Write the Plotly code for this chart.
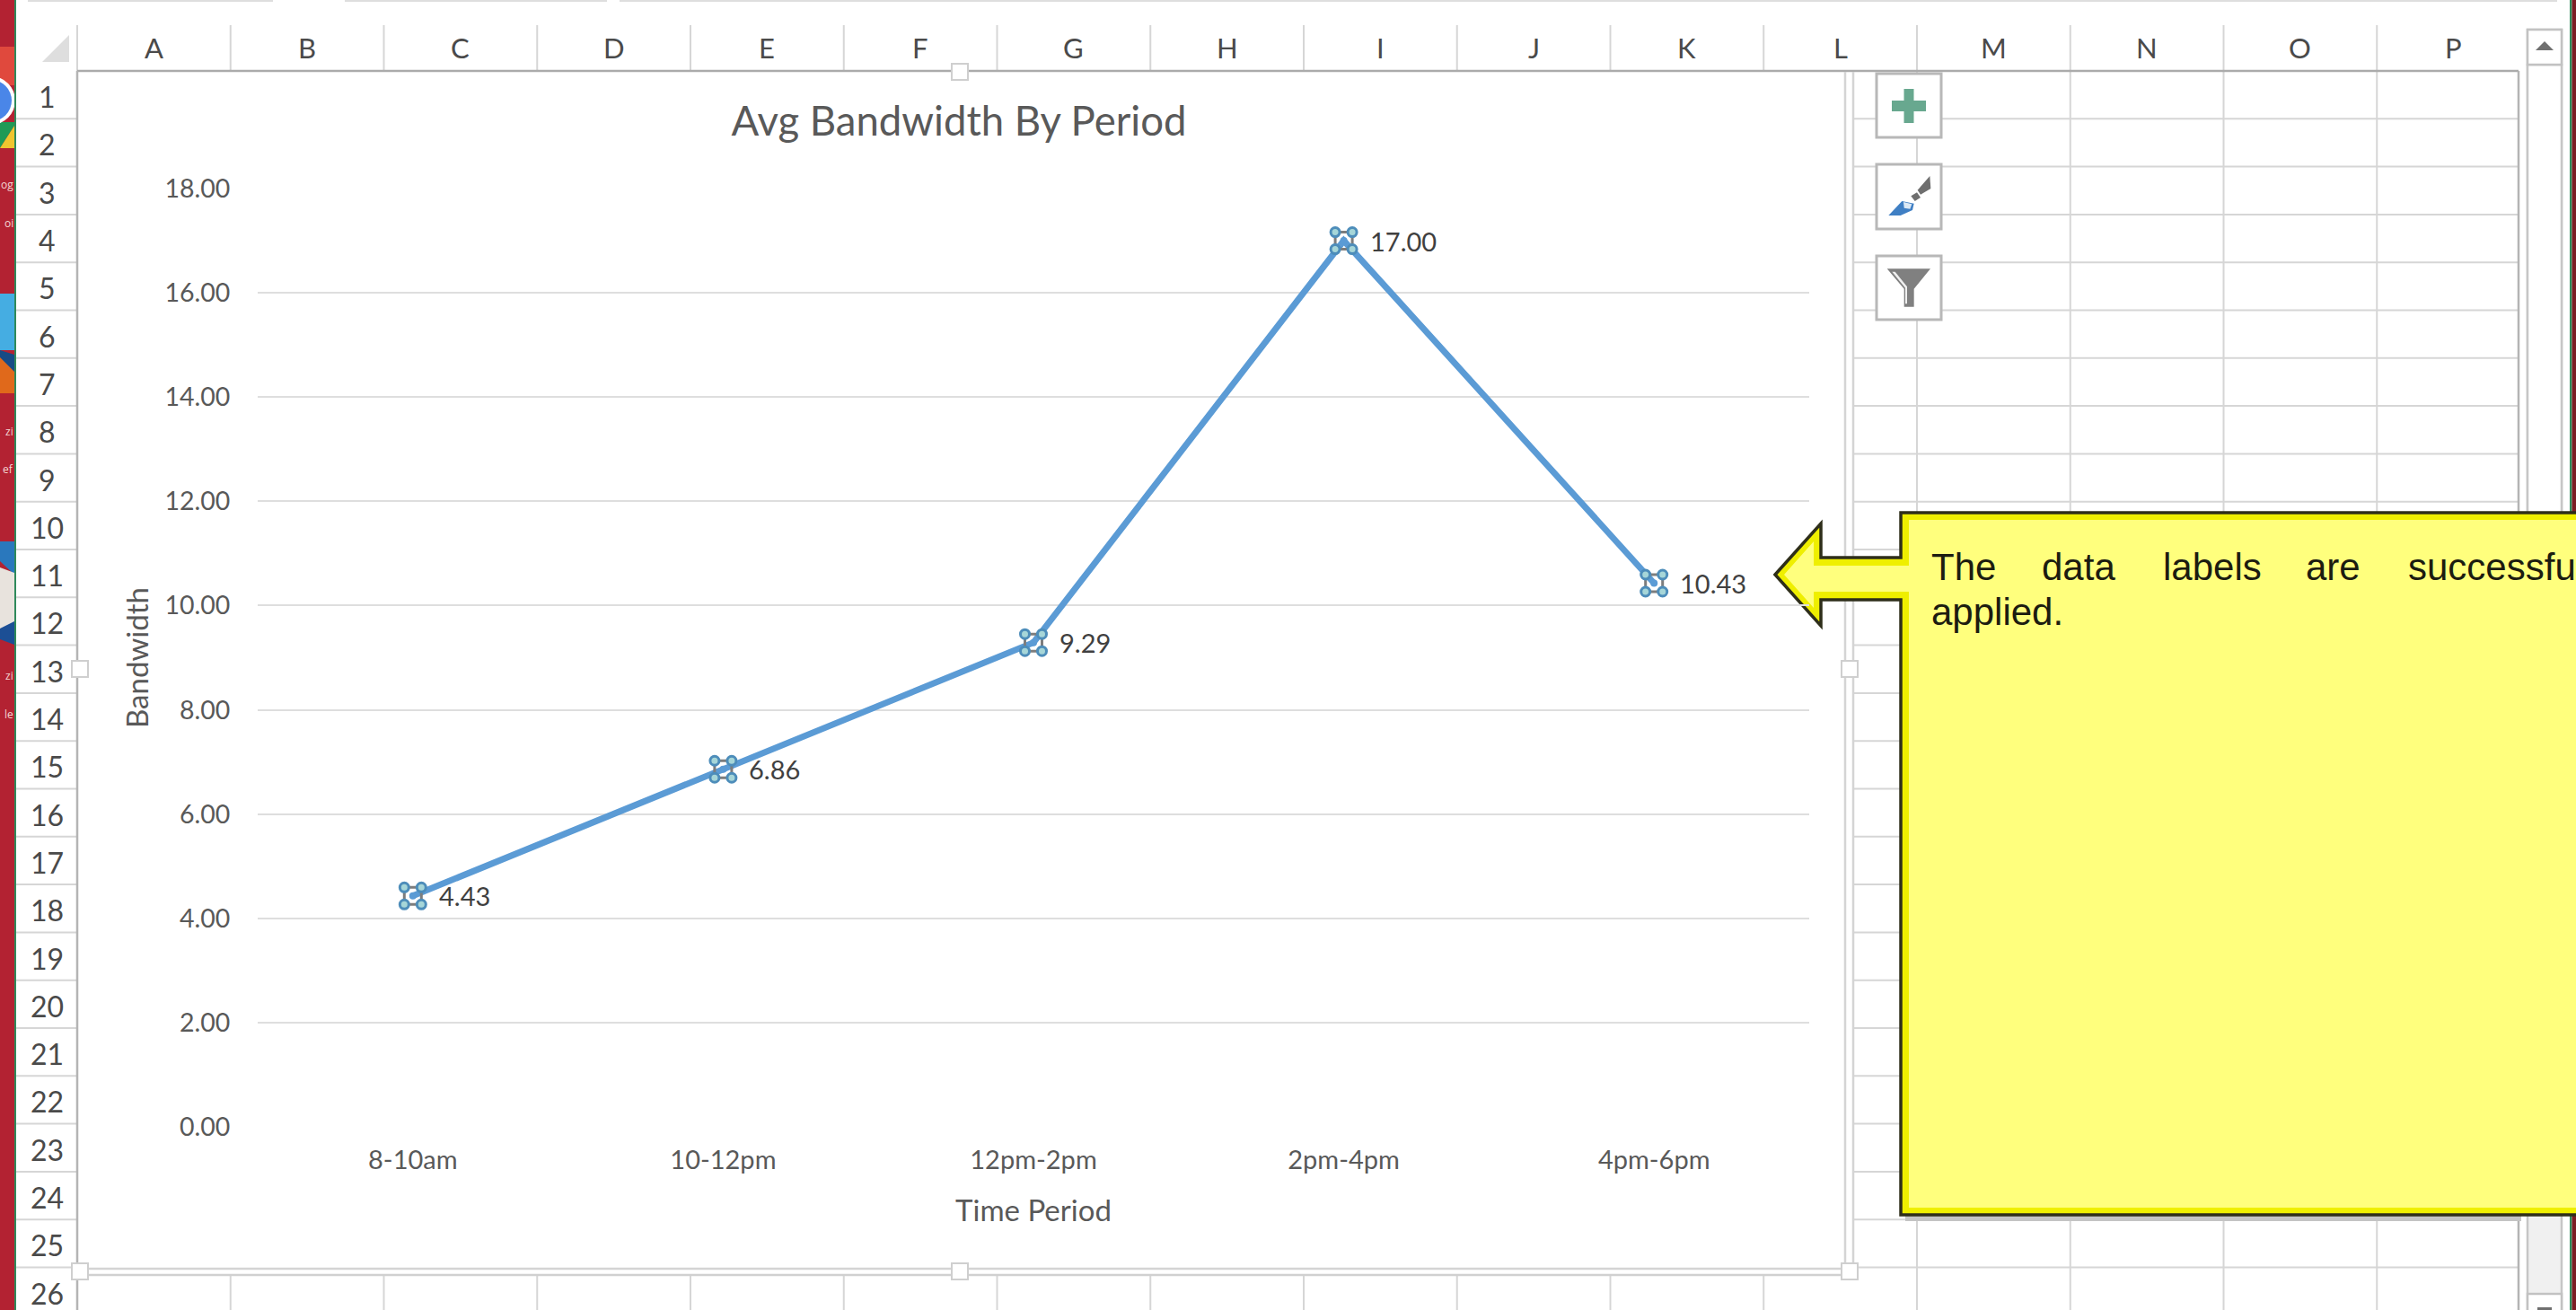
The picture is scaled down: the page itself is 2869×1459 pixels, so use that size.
import plotly.graph_objects as go

# Chart data
periods = ["8-10am", "10-12pm", "12pm-2pm", "2pm-4pm", "4pm-6pm"]
bandwidth = [4.43, 6.86, 9.29, 17.00, 10.43]
y_ticks = [0, 2, 4, 6, 8, 10, 12, 14, 16, 18]

# Worksheet text
column_letters = list("ABCDEFGHIJKLMNOP")
row_numbers = [str(n) for n in range(1, 27)]
note_line_1 = ["The", "data", "labels", "are", "successfu"]
note_line_1_left = [2149, 2272, 2407, 2566, 2680]
note_line_2 = "applied."
desktop_fragments = ["og", "oi", "zi", "ef", "zi", "le"]
desktop_fragment_rows = [205, 248, 481, 522, 752, 795]

W, H = 2869, 1459
CHART_FONT = "Lato, Carlito, sans-serif"
SHEET_FONT = "Lato, Carlito, sans-serif"
TEXT_GREY = "#595959"
GRID = "#dedede"
CELL = "#d6d6d6"
LINE_BLUE = "#5b9bd5"

# Sheet geometry in page pixels
HEADER_BOTTOM = 79
ROW_H = 53.3
COL_W = 170.75
ROW_HEADER_RIGHT = 86
PLOT_L, PLOT_R, PLOT_T, PLOT_B = 287, 2015, 210, 1255


def X(px):
    return px / W


def Y(py):
    return 1 - py / H


def box(x0, y0, x1, y1, fill=None, line=None, width=0, layer="below"):
    return dict(type="rect", xref="paper", yref="paper",
                x0=X(x0), x1=X(x1), y0=Y(y0), y1=Y(y1),
                fillcolor=fill or "rgba(0,0,0,0)",
                line=dict(color=line or "rgba(0,0,0,0)", width=width), layer=layer)


def seg(x0, y0, x1, y1, color=CELL, width=2, layer="below"):
    return dict(type="line", xref="paper", yref="paper",
                x0=X(x0), x1=X(x1), y0=Y(y0), y1=Y(y1),
                line=dict(color=color, width=width), layer=layer)


def poly(points, fill=None, line=None, width=0, layer="below", closed=True):
    path = "M " + " L ".join(f"{X(a):.5f} {Y(b):.5f}" for a, b in points)
    if closed:
        path += " Z"
    return dict(type="path", xref="paper", yref="paper", path=path,
                fillcolor=fill or "rgba(0,0,0,0)",
                line=dict(color=line or "rgba(0,0,0,0)", width=width), layer=layer)


def disc(cx, cy, r, fill, line=None, width=0):
    return dict(type="circle", xref="paper", yref="paper",
                x0=X(cx - r), x1=X(cx + r), y0=Y(cy + r), y1=Y(cy - r),
                fillcolor=fill, line=dict(color=line or "rgba(0,0,0,0)", width=width),
                layer="below")


def icon(points, fill):
    # Ribbon icons are sketched on a 3x grid that starts at the button column
    return poly([(2070 + a / 3, 70 + b / 3) for a, b in points], fill=fill)


shapes = []
notes = []

# Desktop strip behind the window
shapes.append(box(-2, -2, 16, H + 2, fill="#b32232"))
shapes.append(box(0, 52, 16, 95, fill="#e0493d"))
shapes.append(poly([(0, 136), (16, 136), (16, 140), (0, 165)], fill="#1f9a56"))
shapes.append(poly([(16, 140), (16, 165), (0, 165)], fill="#f0c52f"))
shapes.append(disc(-10, 112, 27, "#ffffff"))
shapes.append(disc(-10, 112, 23, "#4a86e8"))
shapes.append(box(0, 327, 16, 390, fill="#45ade2"))
shapes.append(poly([(0, 390), (16, 395), (16, 438), (0, 438)], fill="#174b86"))
shapes.append(poly([(0, 398), (16, 414), (16, 438), (0, 438)], fill="#e0691b"))
shapes.append(poly([(0, 603), (16, 603), (16, 640), (0, 625)], fill="#2a78bd"))
shapes.append(poly([(0, 632), (16, 638), (16, 695), (0, 705)], fill="#e8e3dd"))
shapes.append(poly([(0, 700), (16, 692), (16, 718), (0, 712)], fill="#1c4f95"))

# Page background of the window and its right edge
shapes.append(box(16, -2, 2864, H + 2, fill="#ffffff"))
shapes.append(box(16, -2, 18, H + 2, fill="#2f8a5b"))
shapes.append(box(2862, -2, 2864.5, H + 2, fill="#2f8a5b"))
shapes.append(box(2864.5, -2, W + 2, H + 2, fill="#7b1c24"))
for left, right in [(31, 304), (384, 676), (690, 2848)]:
    shapes.append(box(left, 0, right, 2, fill="#dedede"))

# Row and column headers
shapes.append(poly([(47, 69), (77, 69), (77, 39)], fill="#dedede"))
for k in range(0, 16):
    edge = ROW_HEADER_RIGHT + k * COL_W
    shapes.append(seg(edge, 28, edge, HEADER_BOTTOM))
for k, letter in enumerate(column_letters):
    notes.append(dict(x=X(ROW_HEADER_RIGHT + (k + 0.5) * COL_W), y=Y(53),
                      text=letter, font=dict(family=SHEET_FONT, size=31, color="#4a4a4a")))
for k, number in enumerate(row_numbers):
    bottom = HEADER_BOTTOM + (k + 1) * ROW_H
    if k < 25:
        shapes.append(seg(18, bottom, ROW_HEADER_RIGHT, bottom))
    notes.append(dict(x=X(52), y=Y(bottom - ROW_H / 2 + 2),
                      text=number, font=dict(family=SHEET_FONT, size=32, color="#4a4a4a")))

# Cell grid to the right of and below the chart
for k in range(1, 26):
    yy = HEADER_BOTTOM + k * ROW_H
    shapes.append(seg(2064, yy, 2805, yy))
for k in range(1, 16):
    edge = ROW_HEADER_RIGHT + k * COL_W
    if edge > 2064:
        shapes.append(seg(edge, HEADER_BOTTOM, edge, H))
    else:
        shapes.append(seg(edge, 1420, edge, H))

# Header rules and the right-hand sheet edge
shapes.append(seg(ROW_HEADER_RIGHT, HEADER_BOTTOM, 2805, HEADER_BOTTOM, color="#ababab", width=2.5))
shapes.append(seg(ROW_HEADER_RIGHT, HEADER_BOTTOM, ROW_HEADER_RIGHT, H, color="#b4b4b4", width=2.5))
shapes.append(seg(2805, HEADER_BOTTOM, 2805, H, color="#b4b4b4", width=2.5))

# Scroll bar
shapes.append(box(2815, 33, 2853, H + 2, fill="#f0f0f0", line="#c6c6c6", width=2.5))
shapes.append(box(2815, 72, 2853, 1100, fill="#ffffff", line="#c6c6c6", width=2.5))
shapes.append(box(2815, 33, 2853, 72, fill="#ffffff", line="#c2c2c2", width=2.5))
shapes.append(box(2815, 1441, 2853, H + 4, fill="#ffffff", line="#c2c2c2", width=2.5))
shapes.append(poly([(2824, 56), (2844, 56), (2834, 46)], fill="#707070"))
shapes.append(box(2826, 1456, 2842, H, fill="#707070"))

# Chart area with its selection frame
shapes.append(box(88, 81, 2055, 1412, fill="#ffffff"))
shapes.append(seg(2055, 80, 2055, 1413, color="#d4d4d4", width=2.5))
shapes.append(seg(2064, 80, 2064, 1420, color="#d4d4d4", width=2.5))
shapes.append(seg(88, 1413, 2055, 1413, color="#d4d4d4", width=2.5))
shapes.append(seg(88, 1420, 2064, 1420, color="#d0d0d0", width=2.5))
for cx, cy in [(1069, 80), (89, 745), (2060, 745), (89, 1416), (1069, 1416), (2060, 1416)]:
    shapes.append(box(cx - 9, cy - 9, cx + 9, cy + 9, fill="#ffffff", line="#cfcfcf", width=2))

# Ribbon buttons
for top, bottom in [(82, 153), (183, 255), (285, 356)]:
    shapes.append(box(2090, top, 2162, bottom, fill="#ffffff", line="#b8b8b8", width=3))
shapes.append(box(2107, 112, 2145, 124, fill="#68a88f"))
shapes.append(box(2120.5, 99, 2131.5, 137, fill="#68a88f"))
shapes.append(icon([(238, 378), (241, 420), (207, 440), (197, 425)], "#6f6f6f"))
shapes.append(icon([(175, 445), (195, 433), (207, 450), (188, 462)], "#6f6f6f"))
shapes.append(icon([(100, 510), (145, 462), (185, 470), (180, 492), (140, 510)], "#3f7fc4"))
shapes.append(icon([(150, 465), (178, 472), (172, 488), (152, 485)], "#dce9f5"))
shapes.append(icon([(95, 688), (240, 688), (185, 755), (185, 815), (152, 815), (152, 755)], "#808080"))
shapes.append(icon([(112, 698), (122, 698), (162, 748), (162, 805), (156, 805), (156, 752)], "#f0f0f0"))

# Callout pointing at the last data label
shapes.append(box(2122, 1354, 2808, 1360, fill="#c4c4c4"))
shapes.append(poly([(1977, 640), (2028, 583), (2028, 621), (2117, 621), (2117, 571), (2880, 571),
                    (2880, 1353), (2117, 1353), (2117, 668), (2028, 668), (2028, 697)],
                   fill="#efef00", line="#2e2e1a", width=3.5))
shapes.append(poly([(1987, 640), (2020, 603), (2020, 630), (2126, 630), (2126, 579), (2880, 579),
                    (2880, 1345), (2126, 1345), (2126, 659), (2020, 659), (2020, 677)],
                   fill="#ffff7d"))
for word, left in zip(note_line_1, note_line_1_left):
    notes.append(dict(x=X(left), y=Y(631), xanchor="left", text=word,
                      font=dict(family="Liberation Sans, Arial, sans-serif", size=42, color="#1c1c10")))
notes.append(dict(x=X(2149), y=Y(681), xanchor="left", text=note_line_2,
                  font=dict(family="Liberation Sans, Arial, sans-serif", size=42, color="#1c1c10")))

# Desktop icon captions squeezed into the strip on the window's left side
for word, row in zip(desktop_fragments, desktop_fragment_rows):
    notes.append(dict(x=X(16), y=Y(row), xanchor="right", text=word, borderpad=0,
                      font=dict(family="Open Sans, sans-serif", size=12, color="#f3d6d2")))

for n in notes:
    n.setdefault("xref", "paper")
    n.setdefault("yref", "paper")
    n.setdefault("xanchor", "center")
    n.setdefault("yanchor", "middle")
    n.setdefault("showarrow", False)

# Selection handles around each point, anchored to its value
HALF = 9.5
for period, value in zip(periods, bandwidth):
    anchor = dict(xref="x", yref="y", xsizemode="pixel", ysizemode="pixel",
                  xanchor=period, yanchor=value)
    shapes.append(dict(type="rect", x0=-HALF, x1=HALF, y0=-HALF, y1=HALF,
                       fillcolor="rgba(0,0,0,0)", line=dict(color="#7d7d7d", width=3),
                       layer="above", **anchor))
    for dx in (-HALF, HALF):
        for dy in (-HALF, HALF):
            shapes.append(dict(type="circle", x0=dx - 5, x1=dx + 5, y0=dy - 5, y1=dy + 5,
                               fillcolor="#a6d6d8", line=dict(color="#4d8dba", width=3),
                               layer="above", **anchor))
    notes.append(dict(xref="x", yref="y", x=period, y=value, xanchor="left", yanchor="middle",
                      xshift=27, showarrow=False, text=f"{value:.2f}",
                      font=dict(family=CHART_FONT, size=29, color="#404040")))

fig = go.Figure(go.Scatter(
    x=periods, y=bandwidth, mode="lines+markers",
    line=dict(color=LINE_BLUE, width=7),
    marker=dict(color=LINE_BLUE, size=8),
    hoverinfo="skip",
))

fig.update_layout(
    width=W, height=H, margin=dict(l=0, r=0, t=0, b=0),
    paper_bgcolor="#ffffff", plot_bgcolor="rgba(0,0,0,0)",
    showlegend=False, shapes=shapes, annotations=notes,
    font=dict(family=CHART_FONT, color=TEXT_GREY),
    title=dict(text="Avg Bandwidth By Period", x=X(1068), y=Y(135), xanchor="center", yanchor="middle",
               font=dict(family=CHART_FONT, size=45.5, color=TEXT_GREY)),
    xaxis=dict(
        domain=[X(PLOT_L), X(PLOT_R)], type="category", range=[-0.5, 4.5],
        categoryorder="array", categoryarray=periods, automargin=False,
        showgrid=False, zeroline=False, showline=False,
        ticks="outside", ticklen=11, tickcolor="rgba(0,0,0,0)",
        tickfont=dict(family=CHART_FONT, size=29, color=TEXT_GREY),
        title=dict(text="Time Period", standoff=30,
                   font=dict(family=CHART_FONT, size=33, color=TEXT_GREY)),
    ),
    yaxis=dict(
        domain=[Y(PLOT_B), Y(PLOT_T)], range=[0, 18], automargin=False,
        tickvals=y_ticks, tickformat=".2f",
        showgrid=True, gridcolor=GRID, gridwidth=2, zeroline=False, showline=False,
        ticks="outside", ticklen=24, tickcolor="rgba(0,0,0,0)",
        tickfont=dict(family=CHART_FONT, size=28.5, color=TEXT_GREY),
        title=dict(text="Bandwidth", standoff=7,
                   font=dict(family=CHART_FONT, size=33, color=TEXT_GREY)),
    ),
)

fig.write_html("out.html", config={"displayModeBar": False})
